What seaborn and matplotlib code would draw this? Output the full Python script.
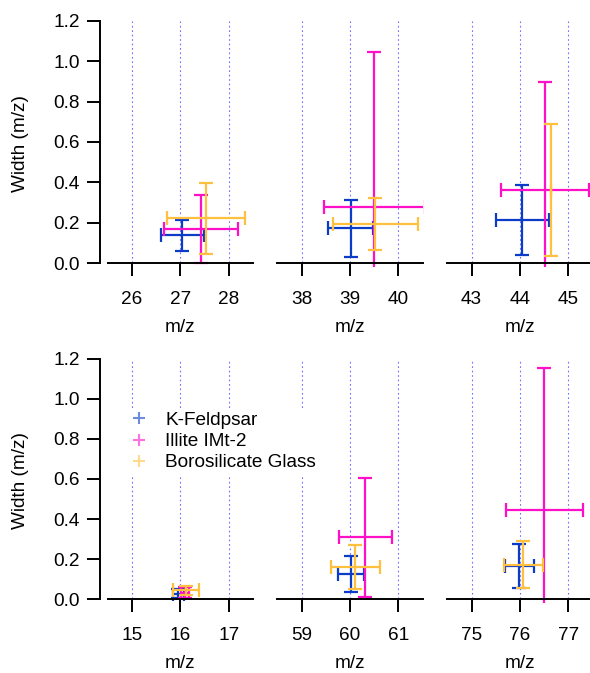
import numpy as np
import matplotlib
matplotlib.use('Agg')
import matplotlib.pyplot as plt
from matplotlib.lines import Line2D
import seaborn as sns

# --- data ---
panel_ticks = [[26, 27, 28], [38, 39, 40], [43, 44, 45],
               [15, 16, 17], [59, 60, 61], [75, 76, 77]]

materials = ['K-Feldpsar', 'Illite IMt-2', 'Borosilicate Glass']
colors = ['#0a3cc8', '#ff10c8', '#ffc040']

# K-Feldpsar
kfeld_mz = [27.04, 39.02, 44.05, 15.96, 60.02, 75.99]
kfeld_mz_err = [0.44, 0.465, 0.545, 0.12, 0.27, 0.305]
kfeld_width = [0.138, 0.173, 0.213, 0.028, 0.127, 0.164]
kfeld_width_err = [0.075, 0.14, 0.173, 0.022, 0.09, 0.11]

# Illite IMt-2
illite_mz = [27.43, 39.50, 44.52, 16.10, 60.32, 76.50]
illite_mz_err = [0.76, 1.045, 0.91, 0.08, 0.555, 0.795]
illite_width = [0.170, 0.277, 0.363, 0.032, 0.309, 0.446]
illite_width_err = [0.169, 0.77, 0.535, 0.028, 0.296, 0.708]

# Borosilicate Glass
boro_mz = [27.53, 39.52, 44.64, 16.12, 60.11, 76.07]
boro_mz_err = [0.81, 0.88, 0.0, 0.27, 0.505, 0.40]
boro_width = [0.222, 0.195, 0.362, 0.045, 0.160, 0.172]
boro_width_err = [0.174, 0.13, 0.327, 0.022, 0.11, 0.118]

series = [
    (kfeld_mz, kfeld_mz_err, kfeld_width, kfeld_width_err),
    (illite_mz, illite_mz_err, illite_width, illite_width_err),
    (boro_mz, boro_mz_err, boro_width, boro_width_err),
]

# --- style ---
sns.set_style('ticks')
plt.rcParams['font.family'] = ['Liberation Sans', 'DejaVu Sans']
FS = 13.7

W, H = 590, 673
fig = plt.figure(figsize=(W / 100, H / 100), dpi=100)

# panel geometry in pixels (left, top, width, height)
lefts = [107.7, 277.3, 447.3]
rows = [(20.7, 246.0), (358.5, 244.2)]
pw = 145.3

axes = []
for i, ticks in enumerate(panel_ticks):
    r, c = divmod(i, 3)
    top, h = rows[r]
    ax = fig.add_axes([lefts[c] / W, 1 - (top + h) / H, pw / W, h / H])
    axes.append(ax)

    for (mz, mz_err, wd, wd_err), col in zip(series, colors):
        ax.errorbar(mz[i], wd[i], xerr=mz_err[i], yerr=wd_err[i],
                    fmt='none', ecolor=col, elinewidth=1.6,
                    capsize=5, capthick=1.6)

    ax.set_xlim(ticks[0] - 0.5, ticks[-1] + 0.5)
    ax.set_ylim(-0.017, 1.2)
    ax.set_xticks(ticks)
    ax.grid(axis='x', color='#7070ff', linestyle=(0, (1.5, 2.5)), linewidth=0.8)
    ax.grid(axis='y', visible=False)
    ax.set_axisbelow(True)

    for s in ['top', 'right']:
        ax.spines[s].set_visible(False)
    ax.spines['bottom'].set_position(('data', 0))
    ax.spines['bottom'].set_linewidth(1.4)
    ax.spines['bottom'].set_color('black')
    ax.tick_params(axis='x', direction='out', length=9.7, width=1.4,
                   pad=10.5, labelsize=FS, color='black', labelcolor='black')
    ax.set_xlabel('m/z', fontsize=FS, labelpad=8, color='black')

    if c == 0:
        ax.spines['left'].set_position(('outward', 5.2))
        ax.spines['left'].set_bounds(0, 1.2)
        ax.spines['left'].set_linewidth(1.4)
        ax.spines['left'].set_color('black')
        ax.set_yticks(np.arange(0, 1.21, 0.2))
        ax.set_yticklabels([f'{v:.1f}' for v in np.arange(0, 1.21, 0.2)])
        ax.tick_params(axis='y', direction='out', length=9.7, width=1.4,
                       pad=5, labelsize=FS, color='black', labelcolor='black')
        ax.set_ylabel('Width (m/z)', fontsize=FS, labelpad=17.6, color='black')
    else:
        ax.spines['left'].set_visible(False)
        ax.set_yticks([])

handles = [Line2D([], [], linestyle='none', marker='+', markersize=9,
                  markeredgewidth=1.5, color=col, alpha=0.6) for col in colors]
leg = fig.legend(handles, materials, loc='upper left',
                 bbox_to_anchor=(125.4 / W, 1 - 408 / H),
                 fontsize=FS, frameon=True, fancybox=False, framealpha=1,
                 facecolor='white', edgecolor='none', borderpad=0.2,
                 labelspacing=0.2, handlelength=1.0, handletextpad=0.9,
                 borderaxespad=0)
leg.set_zorder(10)
for t in leg.get_texts():
    t.set_color('black')

fig.savefig('out.png', dpi=100)
